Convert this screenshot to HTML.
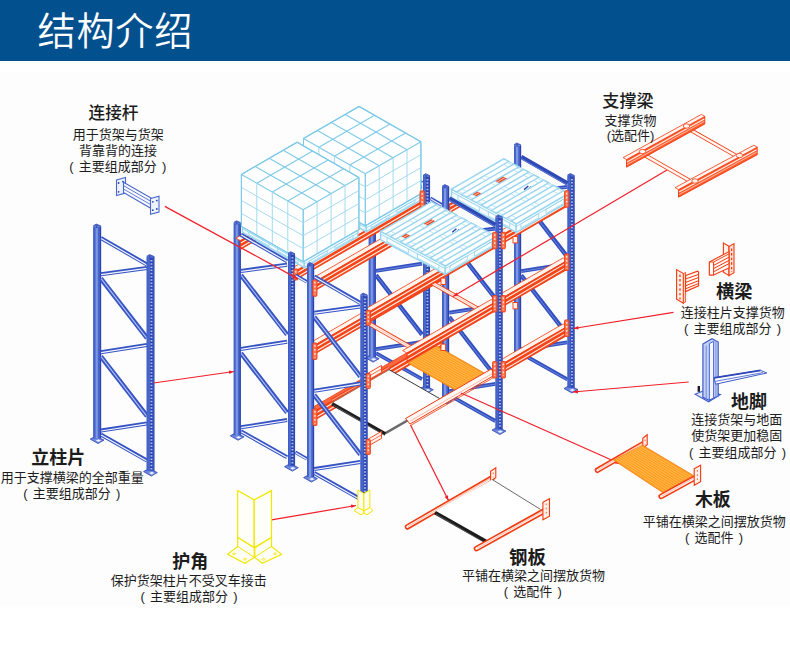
<!DOCTYPE html>
<html lang="zh-CN">
<head>
<meta charset="utf-8">
<title>结构介绍</title>
<style>
html,body{margin:0;padding:0;background:#fff;}
body{width:790px;height:652px;overflow:hidden;position:relative;font-family:"Liberation Sans","Noto Sans CJK SC",sans-serif;}
.hd{position:absolute;left:0;top:0;width:790px;height:61px;background:#03508f;}
.hd h1{position:absolute;left:37.6px;top:5px;margin:0;font-size:38.2px;line-height:54px;font-weight:350;color:#fff;letter-spacing:0.7px;white-space:nowrap;}
.pic{position:absolute;left:0;top:72px;width:790px;height:535px;background:#fdfdfd;}
svg{position:absolute;left:0;top:0;}
svg text{font-family:"Liberation Sans","Noto Sans CJK SC",sans-serif;fill:#1c1c1c;}
</style>
</head>
<body>
<div class="hd"><h1>结构介绍</h1></div>
<div class="pic"></div>
<svg width="790" height="652" viewBox="0 0 790 652">
<g id="frame">
<polygon points="90.2,439.1 95.7,436.1 104,440.1 98,443.5" fill="#6c88e0" stroke="#2c42ac" stroke-width="0.8"/>
<polygon points="95.7,440.5 98.7,439.3 101.2,440.7 98.2,442.1" fill="#e8eeff" stroke="none" stroke-width="1"/>
<rect x="93.3" y="226.5" width="7.8" height="212" fill="#4867cc"/>
<line x1="96.7" y1="227.5" x2="96.7" y2="438.5" stroke="#7d97e2" stroke-width="2.2"/>
<line x1="100.5" y1="226.5" x2="100.5" y2="438.5" stroke="#2c42ac" stroke-width="1.2"/>
<line x1="93.7" y1="226.5" x2="93.7" y2="438.5" stroke="#3f5cc4" stroke-width="0.8"/>
<polygon points="93.3,226.7 93.3,225.7 96.4,224.1 101.1,226.1 101.1,226.7" fill="#4f6ed2" stroke="none" stroke-width="1"/>
<line x1="93.3" y1="225.7" x2="96.4" y2="224.1" stroke="#2c42ac" stroke-width="0.7"/>
<line x1="96.4" y1="224.1" x2="101.1" y2="226.1" stroke="#2c42ac" stroke-width="0.7"/>
<line x1="96.6" y1="225.3" x2="96.6" y2="228.1" stroke="#2c42ac" stroke-width="0.8"/>
<line x1="100.8" y1="238" x2="147" y2="264.5" stroke="#3654c3" stroke-width="4"/>
<line x1="101.1" y1="238.4" x2="146.7" y2="264.9" stroke="#f3f6ff" stroke-width="1.2"/>
<line x1="100.8" y1="274.2" x2="147" y2="268" stroke="#3654c3" stroke-width="4"/>
<line x1="101.1" y1="274.6" x2="146.7" y2="268.4" stroke="#f3f6ff" stroke-width="1.2"/>
<line x1="100.8" y1="278.5" x2="147" y2="338" stroke="#3654c3" stroke-width="4.6"/>
<line x1="101.1" y1="278.7" x2="146.7" y2="338.2" stroke="#b4c2f2" stroke-width="1.1"/>
<line x1="100.8" y1="352.2" x2="147" y2="345" stroke="#3654c3" stroke-width="4"/>
<line x1="101.1" y1="352.6" x2="146.7" y2="345.4" stroke="#f3f6ff" stroke-width="1.2"/>
<line x1="100.8" y1="356.5" x2="147" y2="416" stroke="#3654c3" stroke-width="4.6"/>
<line x1="101.1" y1="356.7" x2="146.7" y2="416.2" stroke="#b4c2f2" stroke-width="1.1"/>
<line x1="100.8" y1="430.6" x2="147" y2="423.4" stroke="#3654c3" stroke-width="4"/>
<line x1="101.1" y1="431" x2="146.7" y2="423.8" stroke="#f3f6ff" stroke-width="1.2"/>
<line x1="100.8" y1="434.6" x2="147" y2="460.5" stroke="#3654c3" stroke-width="4"/>
<line x1="101.1" y1="435" x2="146.7" y2="460.9" stroke="#f3f6ff" stroke-width="1.2"/>
<polygon points="143.5,471.6 149,468.6 157.3,472.6 151.3,476" fill="#6c88e0" stroke="#2c42ac" stroke-width="0.8"/>
<polygon points="149,473 152,471.8 154.5,473.2 151.5,474.6" fill="#e8eeff" stroke="none" stroke-width="1"/>
<rect x="146.7" y="257" width="7.6" height="214" fill="#4867cc"/>
<line x1="151.4" y1="258" x2="151.4" y2="470.5" stroke="#2c42ac" stroke-width="2.8"/>
<line x1="151.4" y1="260" x2="151.4" y2="470" stroke="#a9bff3" stroke-width="1.9" stroke-dasharray="1.5 1.7"/>
<line x1="153.9" y1="257" x2="153.9" y2="471" stroke="#2c42ac" stroke-width="0.9"/>
<line x1="147.2" y1="257" x2="147.2" y2="471" stroke="#3f5cc4" stroke-width="0.9"/>
<polygon points="146.7,257.2 146.7,256.2 149.7,254.6 154.3,256.6 154.3,257.2" fill="#4f6ed2" stroke="none" stroke-width="1"/>
<line x1="146.7" y1="256.2" x2="149.7" y2="254.6" stroke="#2c42ac" stroke-width="0.7"/>
<line x1="149.7" y1="254.6" x2="154.3" y2="256.6" stroke="#2c42ac" stroke-width="0.7"/>
<line x1="149.9" y1="255.8" x2="149.9" y2="258.6" stroke="#2c42ac" stroke-width="0.8"/>
</g>
<g id="rack">
<polygon points="230.3,435.8 235.8,432.8 244.1,436.8 238.1,440.2" fill="#6c88e0" stroke="#2c42ac" stroke-width="0.8"/>
<polygon points="235.8,437.2 238.8,436 241.3,437.4 238.3,438.8" fill="#e8eeff" stroke="none" stroke-width="1"/>
<rect x="233.8" y="223.2" width="7" height="212" fill="#4867cc"/>
<line x1="236.8" y1="224.2" x2="236.8" y2="435.2" stroke="#7d97e2" stroke-width="2.2"/>
<line x1="240.2" y1="223.2" x2="240.2" y2="435.2" stroke="#2c42ac" stroke-width="1.2"/>
<line x1="234.2" y1="223.2" x2="234.2" y2="435.2" stroke="#3f5cc4" stroke-width="0.8"/>
<polygon points="233.8,223.4 233.8,222.4 236.5,220.8 240.8,222.8 240.8,223.4" fill="#4f6ed2" stroke="none" stroke-width="1"/>
<line x1="233.8" y1="222.4" x2="236.5" y2="220.8" stroke="#2c42ac" stroke-width="0.7"/>
<line x1="236.5" y1="220.8" x2="240.8" y2="222.8" stroke="#2c42ac" stroke-width="0.7"/>
<line x1="236.7" y1="222" x2="236.7" y2="224.8" stroke="#2c42ac" stroke-width="0.8"/>
<polygon points="365.3,357.7 370.8,354.7 379.1,358.7 373.1,362.1" fill="#6c88e0" stroke="#2c42ac" stroke-width="0.8"/>
<polygon points="370.8,359.1 373.8,357.9 376.3,359.3 373.3,360.7" fill="#e8eeff" stroke="none" stroke-width="1"/>
<rect x="368.8" y="222" width="7" height="135.1" fill="#4867cc"/>
<line x1="371.8" y1="223" x2="371.8" y2="357.1" stroke="#7d97e2" stroke-width="2.2"/>
<line x1="375.2" y1="222" x2="375.2" y2="357.1" stroke="#2c42ac" stroke-width="1.2"/>
<line x1="369.2" y1="222" x2="369.2" y2="357.1" stroke="#3f5cc4" stroke-width="0.8"/>
<line x1="375.9" y1="156.6" x2="422.1" y2="183.1" stroke="#3654c3" stroke-width="4"/>
<line x1="376.2" y1="157" x2="421.8" y2="183.5" stroke="#f3f6ff" stroke-width="1.2"/>
<line x1="375.9" y1="192.8" x2="422.1" y2="186.6" stroke="#3350c0" stroke-width="3.8"/>
<line x1="376.2" y1="193.1" x2="421.8" y2="186.9" stroke="#6f8ae0" stroke-width="0.9"/>
<line x1="375.9" y1="197.1" x2="422.1" y2="256.6" stroke="#3350c0" stroke-width="4.4"/>
<line x1="376.2" y1="197.4" x2="421.8" y2="256.9" stroke="#6f8ae0" stroke-width="0.9"/>
<line x1="375.9" y1="270.8" x2="422.1" y2="263.6" stroke="#3350c0" stroke-width="3.8"/>
<line x1="376.2" y1="271.1" x2="421.8" y2="263.9" stroke="#6f8ae0" stroke-width="0.9"/>
<line x1="375.9" y1="275.1" x2="422.1" y2="334.6" stroke="#3350c0" stroke-width="4.4"/>
<line x1="376.2" y1="275.4" x2="421.8" y2="334.9" stroke="#6f8ae0" stroke-width="0.9"/>
<line x1="375.9" y1="349.2" x2="422.1" y2="342" stroke="#3350c0" stroke-width="3.8"/>
<line x1="376.2" y1="349.5" x2="421.8" y2="342.3" stroke="#6f8ae0" stroke-width="0.9"/>
<line x1="375.9" y1="353.2" x2="422.1" y2="379.1" stroke="#3350c0" stroke-width="3.8"/>
<line x1="376.2" y1="353.5" x2="421.8" y2="379.4" stroke="#6f8ae0" stroke-width="0.9"/>
<polygon points="240.3,240.7 369.3,166.2 364.9,163.7 235.9,238.2" fill="#fff3ec" stroke="#f23a10" stroke-width="0.8"/>
<polygon points="240.3,240.7 369.3,166.2 369.3,175 240.3,249.5" fill="#f64519" stroke="#f23a10" stroke-width="0.9"/>
<line x1="240.9" y1="242.9" x2="368.7" y2="168.4" stroke="#fff3ec" stroke-width="1.1"/>
<line x1="240.9" y1="247.2" x2="368.7" y2="172.7" stroke="#fff3ec" stroke-width="1.1"/>
<polygon points="294.5,271.7 422.5,197.7 418.1,195.2 290.1,269.2" fill="#fff3ec" stroke="#f23a10" stroke-width="0.8"/>
<polygon points="294.5,271.7 422.5,197.7 422.5,206.5 294.5,280.5" fill="#f64519" stroke="#f23a10" stroke-width="0.9"/>
<line x1="295.1" y1="273.9" x2="421.9" y2="199.9" stroke="#fff3ec" stroke-width="1.1"/>
<line x1="295.1" y1="278.2" x2="421.9" y2="204.2" stroke="#fff3ec" stroke-width="1.1"/>
<polygon points="242.5,225.8 304.3,261.1 304.3,267.6 242.5,232.3" fill="#f2fafd" stroke="#98d6f0" stroke-width="1.4"/>
<polygon points="304.3,261.1 357.8,230.1 357.8,236.6 304.3,267.6" fill="#f8fcfe" stroke="#98d6f0" stroke-width="1.4"/>
<polygon points="309.1,261.1 327.3,250.6 327.3,252.9 309.1,263.4" fill="#ffffff" stroke="#98d6f0" stroke-width="0.9"/>
<polygon points="334.8,246.2 353,235.7 353,238 334.8,248.5" fill="#ffffff" stroke="#98d6f0" stroke-width="0.9"/>
<line x1="304.3" y1="263.9" x2="357.8" y2="232.9" stroke="#98d6f0" stroke-width="0.9"/>
<line x1="242.5" y1="228.6" x2="304.3" y2="263.9" stroke="#98d6f0" stroke-width="0.9"/>
<polygon points="248.7,232.1 269.1,243.8 269.1,246.1 248.7,234.4" fill="#ffffff" stroke="#98d6f0" stroke-width="0.9"/>
<polygon points="277.7,248.7 298.1,260.3 298.1,262.6 277.7,251" fill="#ffffff" stroke="#98d6f0" stroke-width="0.9"/>
<polygon points="304.5,189.9 366.3,225.2 366.3,231.7 304.5,196.4" fill="#f2fafd" stroke="#98d6f0" stroke-width="1.4"/>
<polygon points="366.3,225.2 419.8,194.3 419.8,200.8 366.3,231.7" fill="#f8fcfe" stroke="#98d6f0" stroke-width="1.4"/>
<polygon points="371.1,225.3 389.3,214.7 389.3,217 371.1,227.6" fill="#ffffff" stroke="#98d6f0" stroke-width="0.9"/>
<polygon points="396.8,210.4 415,199.9 415,202.2 396.8,212.7" fill="#ffffff" stroke="#98d6f0" stroke-width="0.9"/>
<line x1="366.3" y1="228" x2="419.8" y2="197.1" stroke="#98d6f0" stroke-width="0.9"/>
<line x1="304.5" y1="192.7" x2="366.3" y2="228" stroke="#98d6f0" stroke-width="0.9"/>
<polygon points="310.7,196.3 331.1,207.9 331.1,210.2 310.7,198.6" fill="#ffffff" stroke="#98d6f0" stroke-width="0.9"/>
<polygon points="339.7,212.9 360.1,224.5 360.1,226.8 339.7,215.2" fill="#ffffff" stroke="#98d6f0" stroke-width="0.9"/>
<polygon points="303.5,138.5 359.1,106.4 420.9,141.7 420.9,193.7 365.3,225.8 303.5,190.5" fill="#ffffff" stroke="#7fcae8" stroke-width="1.1"/>
<line x1="303.5" y1="138.5" x2="365.3" y2="173.8" stroke="#7fcae8" stroke-width="1.1"/>
<line x1="303.5" y1="138.5" x2="359.1" y2="106.4" stroke="#7fcae8" stroke-width="1.1"/>
<line x1="317.4" y1="130.5" x2="379.2" y2="165.8" stroke="#7fcae8" stroke-width="1.1"/>
<line x1="318.9" y1="147.3" x2="374.6" y2="115.2" stroke="#7fcae8" stroke-width="1.1"/>
<line x1="331.3" y1="122.5" x2="393.1" y2="157.7" stroke="#7fcae8" stroke-width="1.1"/>
<line x1="334.4" y1="156.2" x2="390" y2="124" stroke="#7fcae8" stroke-width="1.1"/>
<line x1="345.2" y1="114.4" x2="407" y2="149.7" stroke="#7fcae8" stroke-width="1.1"/>
<line x1="349.9" y1="165" x2="405.5" y2="132.9" stroke="#7fcae8" stroke-width="1.1"/>
<line x1="359.1" y1="106.4" x2="420.9" y2="141.7" stroke="#7fcae8" stroke-width="1.1"/>
<line x1="365.3" y1="173.8" x2="420.9" y2="141.7" stroke="#7fcae8" stroke-width="1.1"/>
<line x1="303.5" y1="138.5" x2="303.5" y2="190.5" stroke="#7fcae8" stroke-width="1"/>
<line x1="365.3" y1="173.8" x2="365.3" y2="225.8" stroke="#7fcae8" stroke-width="1"/>
<line x1="318.9" y1="147.3" x2="318.9" y2="199.3" stroke="#a2daf0" stroke-width="1"/>
<line x1="379.2" y1="165.8" x2="379.2" y2="217.8" stroke="#a2daf0" stroke-width="1"/>
<line x1="334.4" y1="156.2" x2="334.4" y2="208.2" stroke="#a2daf0" stroke-width="1"/>
<line x1="393.1" y1="157.7" x2="393.1" y2="209.7" stroke="#a2daf0" stroke-width="1"/>
<line x1="349.9" y1="165" x2="349.9" y2="217" stroke="#a2daf0" stroke-width="1"/>
<line x1="407" y1="149.7" x2="407" y2="201.7" stroke="#a2daf0" stroke-width="1"/>
<line x1="365.3" y1="173.8" x2="365.3" y2="225.8" stroke="#7fcae8" stroke-width="1"/>
<line x1="420.9" y1="141.7" x2="420.9" y2="193.7" stroke="#7fcae8" stroke-width="1"/>
<line x1="303.5" y1="151.5" x2="365.3" y2="186.8" stroke="#a2daf0" stroke-width="1"/>
<line x1="365.3" y1="186.8" x2="420.9" y2="154.7" stroke="#a2daf0" stroke-width="1"/>
<line x1="303.5" y1="164.5" x2="365.3" y2="199.8" stroke="#a2daf0" stroke-width="1"/>
<line x1="365.3" y1="199.8" x2="420.9" y2="167.7" stroke="#a2daf0" stroke-width="1"/>
<line x1="303.5" y1="177.5" x2="365.3" y2="212.8" stroke="#a2daf0" stroke-width="1"/>
<line x1="365.3" y1="212.8" x2="420.9" y2="180.7" stroke="#a2daf0" stroke-width="1"/>
<line x1="303.5" y1="190.5" x2="365.3" y2="225.8" stroke="#7fcae8" stroke-width="1"/>
<line x1="365.3" y1="225.8" x2="420.9" y2="193.7" stroke="#7fcae8" stroke-width="1"/>
<polygon points="241.4,174.4 297.1,142.2 358.9,177.5 358.9,229.5 303.2,261.7 241.4,226.4" fill="#ffffff" stroke="#7fcae8" stroke-width="1.1"/>
<line x1="241.4" y1="174.4" x2="303.2" y2="209.7" stroke="#7fcae8" stroke-width="1.1"/>
<line x1="241.4" y1="174.4" x2="297.1" y2="142.2" stroke="#7fcae8" stroke-width="1.1"/>
<line x1="255.3" y1="166.4" x2="317.1" y2="201.7" stroke="#7fcae8" stroke-width="1.1"/>
<line x1="256.8" y1="183.2" x2="312.6" y2="151" stroke="#7fcae8" stroke-width="1.1"/>
<line x1="269.2" y1="158.3" x2="331.1" y2="193.6" stroke="#7fcae8" stroke-width="1.1"/>
<line x1="272.3" y1="192.1" x2="328" y2="159.9" stroke="#7fcae8" stroke-width="1.1"/>
<line x1="283.2" y1="150.3" x2="345" y2="185.6" stroke="#7fcae8" stroke-width="1.1"/>
<line x1="287.8" y1="200.9" x2="343.5" y2="168.7" stroke="#7fcae8" stroke-width="1.1"/>
<line x1="297.1" y1="142.2" x2="358.9" y2="177.5" stroke="#7fcae8" stroke-width="1.1"/>
<line x1="303.2" y1="209.7" x2="358.9" y2="177.5" stroke="#7fcae8" stroke-width="1.1"/>
<line x1="241.4" y1="174.4" x2="241.4" y2="226.4" stroke="#7fcae8" stroke-width="1"/>
<line x1="303.2" y1="209.7" x2="303.2" y2="261.7" stroke="#7fcae8" stroke-width="1"/>
<line x1="256.8" y1="183.2" x2="256.8" y2="235.2" stroke="#a2daf0" stroke-width="1"/>
<line x1="317.1" y1="201.7" x2="317.1" y2="253.7" stroke="#a2daf0" stroke-width="1"/>
<line x1="272.3" y1="192.1" x2="272.3" y2="244.1" stroke="#a2daf0" stroke-width="1"/>
<line x1="331.1" y1="193.6" x2="331.1" y2="245.6" stroke="#a2daf0" stroke-width="1"/>
<line x1="287.8" y1="200.9" x2="287.8" y2="252.9" stroke="#a2daf0" stroke-width="1"/>
<line x1="345" y1="185.6" x2="345" y2="237.6" stroke="#a2daf0" stroke-width="1"/>
<line x1="303.2" y1="209.7" x2="303.2" y2="261.7" stroke="#7fcae8" stroke-width="1"/>
<line x1="358.9" y1="177.5" x2="358.9" y2="229.5" stroke="#7fcae8" stroke-width="1"/>
<line x1="241.4" y1="187.4" x2="303.2" y2="222.7" stroke="#a2daf0" stroke-width="1"/>
<line x1="303.2" y1="222.7" x2="358.9" y2="190.5" stroke="#a2daf0" stroke-width="1"/>
<line x1="241.4" y1="200.4" x2="303.2" y2="235.7" stroke="#a2daf0" stroke-width="1"/>
<line x1="303.2" y1="235.7" x2="358.9" y2="203.5" stroke="#a2daf0" stroke-width="1"/>
<line x1="241.4" y1="213.4" x2="303.2" y2="248.7" stroke="#a2daf0" stroke-width="1"/>
<line x1="303.2" y1="248.7" x2="358.9" y2="216.5" stroke="#a2daf0" stroke-width="1"/>
<line x1="241.4" y1="226.4" x2="303.2" y2="261.7" stroke="#7fcae8" stroke-width="1"/>
<line x1="303.2" y1="261.7" x2="358.9" y2="229.5" stroke="#7fcae8" stroke-width="1"/>
<line x1="240.9" y1="234.7" x2="287.1" y2="261.2" stroke="#3654c3" stroke-width="4"/>
<line x1="241.2" y1="235.1" x2="286.8" y2="261.6" stroke="#f3f6ff" stroke-width="1.2"/>
<line x1="240.9" y1="270.9" x2="287.1" y2="264.7" stroke="#3654c3" stroke-width="4"/>
<line x1="241.2" y1="271.3" x2="286.8" y2="265.1" stroke="#f3f6ff" stroke-width="1.2"/>
<line x1="240.9" y1="275.2" x2="287.1" y2="334.7" stroke="#3654c3" stroke-width="4.6"/>
<line x1="241.2" y1="275.4" x2="286.8" y2="334.9" stroke="#b4c2f2" stroke-width="1.1"/>
<line x1="240.9" y1="348.9" x2="287.1" y2="341.7" stroke="#3654c3" stroke-width="4"/>
<line x1="241.2" y1="349.3" x2="286.8" y2="342.1" stroke="#f3f6ff" stroke-width="1.2"/>
<line x1="240.9" y1="353.2" x2="287.1" y2="412.7" stroke="#3654c3" stroke-width="4.6"/>
<line x1="241.2" y1="353.4" x2="286.8" y2="412.9" stroke="#b4c2f2" stroke-width="1.1"/>
<line x1="240.9" y1="427.3" x2="287.1" y2="420.1" stroke="#3654c3" stroke-width="4"/>
<line x1="241.2" y1="427.7" x2="286.8" y2="420.5" stroke="#f3f6ff" stroke-width="1.2"/>
<line x1="240.9" y1="431.3" x2="287.1" y2="457.2" stroke="#3654c3" stroke-width="4"/>
<line x1="241.2" y1="431.7" x2="286.8" y2="457.6" stroke="#f3f6ff" stroke-width="1.2"/>
<polygon points="284.5,466.7 290,463.7 298.3,467.7 292.3,471.1" fill="#6c88e0" stroke="#2c42ac" stroke-width="0.8"/>
<polygon points="290,468.1 293,466.9 295.5,468.3 292.5,469.7" fill="#e8eeff" stroke="none" stroke-width="1"/>
<rect x="288" y="254.1" width="7" height="212" fill="#4867cc"/>
<line x1="292.4" y1="255.1" x2="292.4" y2="465.6" stroke="#2c42ac" stroke-width="2.8"/>
<line x1="292.4" y1="257.1" x2="292.4" y2="465.1" stroke="#a9bff3" stroke-width="1.9" stroke-dasharray="1.5 1.7"/>
<line x1="294.6" y1="254.1" x2="294.6" y2="466.1" stroke="#2c42ac" stroke-width="0.9"/>
<line x1="288.5" y1="254.1" x2="288.5" y2="466.1" stroke="#3f5cc4" stroke-width="0.9"/>
<polygon points="288,254.3 288,253.3 290.7,251.7 295,253.7 295,254.3" fill="#4f6ed2" stroke="none" stroke-width="1"/>
<line x1="288" y1="253.3" x2="290.7" y2="251.7" stroke="#2c42ac" stroke-width="0.7"/>
<line x1="290.7" y1="251.7" x2="295" y2="253.7" stroke="#2c42ac" stroke-width="0.7"/>
<line x1="290.9" y1="252.9" x2="290.9" y2="255.7" stroke="#2c42ac" stroke-width="0.8"/>
<rect x="293.7" y="268.9" width="4.2" height="11" rx="1" fill="#fb7450" stroke="#f23a10" stroke-width="0.9"/>
<line x1="295.8" y1="270.9" x2="295.8" y2="277.9" stroke="#fff1ea" stroke-width="1.2" stroke-dasharray="1.8 2.2"/>
<polygon points="419.5,388.7 425,385.7 433.3,389.7 427.3,393.1" fill="#6c88e0" stroke="#2c42ac" stroke-width="0.8"/>
<polygon points="425,390.1 428,388.9 430.5,390.3 427.5,391.7" fill="#e8eeff" stroke="none" stroke-width="1"/>
<rect x="423" y="176.1" width="7" height="212" fill="#4867cc"/>
<line x1="427.4" y1="177.1" x2="427.4" y2="387.6" stroke="#2c42ac" stroke-width="2.8"/>
<line x1="427.4" y1="179.1" x2="427.4" y2="387.1" stroke="#a9bff3" stroke-width="1.9" stroke-dasharray="1.5 1.7"/>
<line x1="429.6" y1="176.1" x2="429.6" y2="388.1" stroke="#2c42ac" stroke-width="0.9"/>
<line x1="423.5" y1="176.1" x2="423.5" y2="388.1" stroke="#3f5cc4" stroke-width="0.9"/>
<polygon points="423,176.3 423,175.3 425.7,173.7 430,175.7 430,176.3" fill="#4f6ed2" stroke="none" stroke-width="1"/>
<line x1="423" y1="175.3" x2="425.7" y2="173.7" stroke="#2c42ac" stroke-width="0.7"/>
<line x1="425.7" y1="173.7" x2="430" y2="175.7" stroke="#2c42ac" stroke-width="0.7"/>
<line x1="425.9" y1="174.9" x2="425.9" y2="177.7" stroke="#2c42ac" stroke-width="0.8"/>
<rect x="420.1" y="190.9" width="4.2" height="16.5" rx="1" fill="#fb7450" stroke="#f23a10" stroke-width="0.9"/>
<line x1="422.2" y1="192.9" x2="422.2" y2="205.4" stroke="#fff1ea" stroke-width="1.2" stroke-dasharray="1.8 2.2"/>
<polygon points="510.6,358 516.1,355 524.4,359 518.4,362.4" fill="#6c88e0" stroke="#2c42ac" stroke-width="0.8"/>
<polygon points="516.1,359.4 519.1,358.2 521.6,359.6 518.6,361" fill="#e8eeff" stroke="none" stroke-width="1"/>
<rect x="514.1" y="145.4" width="7" height="212" fill="#4867cc"/>
<line x1="517.1" y1="146.4" x2="517.1" y2="357.4" stroke="#7d97e2" stroke-width="2.2"/>
<line x1="520.5" y1="145.4" x2="520.5" y2="357.4" stroke="#2c42ac" stroke-width="1.2"/>
<line x1="514.5" y1="145.4" x2="514.5" y2="357.4" stroke="#3f5cc4" stroke-width="0.8"/>
<polygon points="514.1,145.6 514.1,144.6 516.8,143 521.1,145 521.1,145.6" fill="#4f6ed2" stroke="none" stroke-width="1"/>
<line x1="514.1" y1="144.6" x2="516.8" y2="143" stroke="#2c42ac" stroke-width="0.7"/>
<line x1="516.8" y1="143" x2="521.1" y2="145" stroke="#2c42ac" stroke-width="0.7"/>
<line x1="517" y1="144.2" x2="517" y2="147" stroke="#2c42ac" stroke-width="0.8"/>
<line x1="521.2" y1="193.1" x2="567.4" y2="186.9" stroke="#3350c0" stroke-width="3.8"/>
<line x1="521.5" y1="193.4" x2="567.1" y2="187.2" stroke="#6f8ae0" stroke-width="0.9"/>
<line x1="521.2" y1="197.4" x2="567.4" y2="256.9" stroke="#3350c0" stroke-width="4.4"/>
<line x1="521.5" y1="197.7" x2="567.1" y2="257.2" stroke="#6f8ae0" stroke-width="0.9"/>
<line x1="521.2" y1="271.1" x2="567.4" y2="263.9" stroke="#3350c0" stroke-width="3.8"/>
<line x1="521.5" y1="271.4" x2="567.1" y2="264.2" stroke="#6f8ae0" stroke-width="0.9"/>
<line x1="521.2" y1="275.4" x2="567.4" y2="334.9" stroke="#3350c0" stroke-width="4.4"/>
<line x1="521.5" y1="275.7" x2="567.1" y2="335.2" stroke="#6f8ae0" stroke-width="0.9"/>
<line x1="521.2" y1="349.5" x2="567.4" y2="342.3" stroke="#3350c0" stroke-width="3.8"/>
<line x1="521.5" y1="349.8" x2="567.1" y2="342.6" stroke="#6f8ae0" stroke-width="0.9"/>
<line x1="521.2" y1="353.5" x2="567.4" y2="379.4" stroke="#3350c0" stroke-width="3.8"/>
<line x1="521.5" y1="353.8" x2="567.1" y2="379.7" stroke="#6f8ae0" stroke-width="0.9"/>
<polygon points="449.6,204 514.6,166.4 510.2,163.9 445.2,201.5" fill="#fff3ec" stroke="#f23a10" stroke-width="0.8"/>
<polygon points="449.6,204 514.6,166.4 514.6,175.2 449.6,212.8" fill="#f64519" stroke="#f23a10" stroke-width="0.9"/>
<line x1="450.2" y1="206.2" x2="514" y2="168.6" stroke="#fff3ec" stroke-width="1.1"/>
<line x1="450.2" y1="210.5" x2="514" y2="172.9" stroke="#fff3ec" stroke-width="1.1"/>
<polygon points="438.6,399.6 444.1,396.6 452.4,400.6 446.4,404" fill="#6c88e0" stroke="#2c42ac" stroke-width="0.8"/>
<polygon points="444.1,401 447.1,399.8 449.6,401.2 446.6,402.6" fill="#e8eeff" stroke="none" stroke-width="1"/>
<rect x="442.1" y="187" width="7" height="212" fill="#4867cc"/>
<line x1="445.1" y1="188" x2="445.1" y2="399" stroke="#7d97e2" stroke-width="2.2"/>
<line x1="448.5" y1="187" x2="448.5" y2="399" stroke="#2c42ac" stroke-width="1.2"/>
<line x1="442.5" y1="187" x2="442.5" y2="399" stroke="#3f5cc4" stroke-width="0.8"/>
<polygon points="442.1,187.2 442.1,186.2 444.8,184.6 449.1,186.6 449.1,187.2" fill="#4f6ed2" stroke="none" stroke-width="1"/>
<line x1="442.1" y1="186.2" x2="444.8" y2="184.6" stroke="#2c42ac" stroke-width="0.7"/>
<line x1="444.8" y1="184.6" x2="449.1" y2="186.6" stroke="#2c42ac" stroke-width="0.7"/>
<line x1="445" y1="185.8" x2="445" y2="188.6" stroke="#2c42ac" stroke-width="0.8"/>
<line x1="449.2" y1="234.7" x2="495.4" y2="228.5" stroke="#3350c0" stroke-width="3.8"/>
<line x1="449.5" y1="235" x2="495.1" y2="228.8" stroke="#6f8ae0" stroke-width="0.9"/>
<line x1="449.2" y1="239" x2="495.4" y2="298.5" stroke="#3350c0" stroke-width="4.4"/>
<line x1="449.5" y1="239.3" x2="495.1" y2="298.8" stroke="#6f8ae0" stroke-width="0.9"/>
<line x1="449.2" y1="312.7" x2="495.4" y2="305.5" stroke="#3350c0" stroke-width="3.8"/>
<line x1="449.5" y1="313" x2="495.1" y2="305.8" stroke="#6f8ae0" stroke-width="0.9"/>
<line x1="449.2" y1="317" x2="495.4" y2="376.5" stroke="#3350c0" stroke-width="4.4"/>
<line x1="449.5" y1="317.3" x2="495.1" y2="376.8" stroke="#6f8ae0" stroke-width="0.9"/>
<line x1="449.2" y1="391.1" x2="495.4" y2="383.9" stroke="#3350c0" stroke-width="3.8"/>
<line x1="449.5" y1="391.4" x2="495.1" y2="384.2" stroke="#6f8ae0" stroke-width="0.9"/>
<line x1="449.2" y1="395.1" x2="495.4" y2="421" stroke="#3350c0" stroke-width="3.8"/>
<line x1="449.5" y1="395.4" x2="495.1" y2="421.3" stroke="#6f8ae0" stroke-width="0.9"/>
<polygon points="314.1,411.5 442.1,337.5 437.7,335 309.7,409" fill="#f9683f" stroke="#f23a10" stroke-width="0.8"/>
<polygon points="314.1,411.5 442.1,337.5 442.1,346.3 314.1,420.3" fill="#f64519" stroke="#f23a10" stroke-width="0.9"/>
<line x1="314.7" y1="413.7" x2="441.5" y2="339.7" stroke="#fff3ec" stroke-width="1.1"/>
<line x1="314.7" y1="418" x2="441.5" y2="344" stroke="#fff3ec" stroke-width="1.1"/>
<polygon points="314.1,345.5 442.1,271.5 437.7,269 309.7,343" fill="#fff3ec" stroke="#f23a10" stroke-width="0.8"/>
<polygon points="314.1,345.5 442.1,271.5 442.1,280.3 314.1,354.3" fill="#f64519" stroke="#f23a10" stroke-width="0.9"/>
<line x1="314.7" y1="347.7" x2="441.5" y2="273.7" stroke="#fff3ec" stroke-width="1.1"/>
<line x1="314.7" y1="352" x2="441.5" y2="278" stroke="#fff3ec" stroke-width="1.1"/>
<polygon points="314.1,282.3 442.1,208.3 437.7,205.8 309.7,279.8" fill="#fff3ec" stroke="#f23a10" stroke-width="0.8"/>
<polygon points="314.1,282.3 442.1,208.3 442.1,217.1 314.1,291.1" fill="#f64519" stroke="#f23a10" stroke-width="0.9"/>
<line x1="314.7" y1="284.5" x2="441.5" y2="210.5" stroke="#fff3ec" stroke-width="1.1"/>
<line x1="314.7" y1="288.8" x2="441.5" y2="214.8" stroke="#fff3ec" stroke-width="1.1"/>
<polygon points="502.5,363.9 567.5,326.4 563.1,323.9 498.1,361.4" fill="#fff3ec" stroke="#f23a10" stroke-width="0.8"/>
<polygon points="502.5,363.9 567.5,326.4 567.5,335.2 502.5,372.7" fill="#f64519" stroke="#f23a10" stroke-width="0.9"/>
<line x1="503.1" y1="366.1" x2="566.9" y2="328.6" stroke="#fff3ec" stroke-width="1.1"/>
<line x1="503.1" y1="370.4" x2="566.9" y2="332.9" stroke="#fff3ec" stroke-width="1.1"/>
<polygon points="502.5,297.9 567.5,260.4 563.1,257.9 498.1,295.4" fill="#fff3ec" stroke="#f23a10" stroke-width="0.8"/>
<polygon points="502.5,297.9 567.5,260.4 567.5,269.2 502.5,306.7" fill="#f64519" stroke="#f23a10" stroke-width="0.9"/>
<line x1="503.1" y1="300.1" x2="566.9" y2="262.6" stroke="#fff3ec" stroke-width="1.1"/>
<line x1="503.1" y1="304.4" x2="566.9" y2="266.9" stroke="#fff3ec" stroke-width="1.1"/>
<polygon points="502.5,234.7 567.5,197.2 563.1,194.7 498.1,232.2" fill="#fff3ec" stroke="#f23a10" stroke-width="0.8"/>
<polygon points="502.5,234.7 567.5,197.2 567.5,206 502.5,243.5" fill="#f64519" stroke="#f23a10" stroke-width="0.9"/>
<line x1="503.1" y1="236.9" x2="566.9" y2="199.4" stroke="#fff3ec" stroke-width="1.1"/>
<line x1="503.1" y1="241.2" x2="566.9" y2="203.7" stroke="#fff3ec" stroke-width="1.1"/>
<polygon points="451.5,189.2 516.2,223.8 516.2,232.3 451.5,197.7" fill="#f2fafd" stroke="#98d6f0" stroke-width="1.4"/>
<polygon points="516.2,223.8 568.5,193.4 568.5,201.9 516.2,232.3" fill="#f8fcfe" stroke="#98d6f0" stroke-width="1.4"/>
<polygon points="520.9,223.9 538.7,213.5 538.7,217.8 520.9,228.2" fill="#ffffff" stroke="#98d6f0" stroke-width="0.9"/>
<polygon points="546,209.3 563.8,198.9 563.8,203.2 546,213.6" fill="#ffffff" stroke="#98d6f0" stroke-width="0.9"/>
<line x1="516.2" y1="226.6" x2="568.5" y2="196.2" stroke="#98d6f0" stroke-width="0.9"/>
<line x1="451.5" y1="192" x2="516.2" y2="226.6" stroke="#98d6f0" stroke-width="0.9"/>
<polygon points="458,195.5 479.3,206.9 479.3,211.2 458,199.8" fill="#ffffff" stroke="#98d6f0" stroke-width="0.9"/>
<polygon points="488.4,211.7 509.7,223.1 509.7,227.4 488.4,216" fill="#ffffff" stroke="#98d6f0" stroke-width="0.9"/>
<polygon points="451.5,189.2 503.8,158.8 568.5,193.4 516.2,223.8" fill="#ffffff" stroke="#98d6f0" stroke-width="0.8"/>
<polygon points="467.5,196 476.4,190.9 482.4,194 473.5,199.2" fill="#f5431a" stroke="none" stroke-width="1"/>
<line x1="470.5" y1="197.6" x2="479.4" y2="192.4" stroke="#ffe9e0" stroke-width="0.8"/>
<polygon points="493.2,181.1 502.1,176 508,179.1 499.1,184.3" fill="#f5431a" stroke="none" stroke-width="1"/>
<line x1="496.1" y1="182.7" x2="505" y2="177.5" stroke="#ffe9e0" stroke-width="0.8"/>
<polygon points="453.1,188.3 456.7,186.2 521.4,220.8 517.8,222.9" fill="#ffffff" stroke="#b5e1f4" stroke-width="0.9"/>
<polygon points="475.8,175.1 479.5,172.9 544.2,207.5 540.5,209.7" fill="#ffffff" stroke="#b5e1f4" stroke-width="0.9"/>
<polygon points="498.6,161.8 502.2,159.7 566.9,194.3 563.3,196.4" fill="#ffffff" stroke="#b5e1f4" stroke-width="0.9"/>
<line x1="524.1" y1="189.6" x2="528.3" y2="186" stroke="#2a41ae" stroke-width="1.4"/>
<line x1="527.1" y1="190.4" x2="531.3" y2="186.8" stroke="#2a41ae" stroke-width="1.4"/>
<polygon points="451.5,189.2 503.8,158.8 508.8,161.5 456.5,191.9" fill="#ffffff" stroke="#98d6f0" stroke-width="1.4"/>
<polygon points="461.4,194.5 513.7,164.1 518.8,166.8 466.5,197.2" fill="#ffffff" stroke="#98d6f0" stroke-width="1.4"/>
<polygon points="471.4,199.8 523.7,169.4 528.7,172.1 476.4,202.5" fill="#ffffff" stroke="#98d6f0" stroke-width="1.4"/>
<polygon points="481.3,205.2 533.6,174.8 538.7,177.4 486.4,207.8" fill="#ffffff" stroke="#98d6f0" stroke-width="1.4"/>
<polygon points="491.3,210.5 543.6,180.1 548.6,182.8 496.3,213.2" fill="#ffffff" stroke="#98d6f0" stroke-width="1.4"/>
<polygon points="501.2,215.8 553.5,185.4 558.6,188.1 506.3,218.5" fill="#ffffff" stroke="#98d6f0" stroke-width="1.4"/>
<polygon points="511.2,221.1 563.5,190.7 568.5,193.4 516.2,223.8" fill="#ffffff" stroke="#98d6f0" stroke-width="1.4"/>
<polygon points="564,388.5 569.5,385.5 577.8,389.5 571.8,392.9" fill="#6c88e0" stroke="#2c42ac" stroke-width="0.8"/>
<polygon points="569.5,389.9 572.5,388.7 575,390.1 572,391.5" fill="#e8eeff" stroke="none" stroke-width="1"/>
<rect x="567.5" y="175.9" width="7" height="212" fill="#4867cc"/>
<line x1="571.9" y1="176.9" x2="571.9" y2="387.4" stroke="#2c42ac" stroke-width="2.8"/>
<line x1="571.9" y1="178.9" x2="571.9" y2="386.9" stroke="#a9bff3" stroke-width="1.9" stroke-dasharray="1.5 1.7"/>
<line x1="574.1" y1="175.9" x2="574.1" y2="387.9" stroke="#2c42ac" stroke-width="0.9"/>
<line x1="568" y1="175.9" x2="568" y2="387.9" stroke="#3f5cc4" stroke-width="0.9"/>
<polygon points="567.5,176.1 567.5,175.1 570.2,173.5 574.5,175.5 574.5,176.1" fill="#4f6ed2" stroke="none" stroke-width="1"/>
<line x1="567.5" y1="175.1" x2="570.2" y2="173.5" stroke="#2c42ac" stroke-width="0.7"/>
<line x1="570.2" y1="173.5" x2="574.5" y2="175.5" stroke="#2c42ac" stroke-width="0.7"/>
<line x1="570.4" y1="174.7" x2="570.4" y2="177.5" stroke="#2c42ac" stroke-width="0.8"/>
<rect x="564.6" y="319.9" width="4.2" height="16.5" rx="1" fill="#fb7450" stroke="#f23a10" stroke-width="0.9"/>
<line x1="566.7" y1="321.9" x2="566.7" y2="334.4" stroke="#fff1ea" stroke-width="1.2" stroke-dasharray="1.8 2.2"/>
<rect x="564.6" y="253.9" width="4.2" height="16.5" rx="1" fill="#fb7450" stroke="#f23a10" stroke-width="0.9"/>
<line x1="566.7" y1="255.9" x2="566.7" y2="268.4" stroke="#fff1ea" stroke-width="1.2" stroke-dasharray="1.8 2.2"/>
<rect x="564.6" y="190.7" width="4.2" height="16.5" rx="1" fill="#fb7450" stroke="#f23a10" stroke-width="0.9"/>
<line x1="566.7" y1="192.7" x2="566.7" y2="205.2" stroke="#fff1ea" stroke-width="1.2" stroke-dasharray="1.8 2.2"/>
<line x1="521.2" y1="156.9" x2="567.4" y2="183.4" stroke="#2f49b6" stroke-width="4.4"/>
<line x1="521.2" y1="158.5" x2="567.4" y2="185" stroke="#5f7cd8" stroke-width="1"/>
<line x1="428.4" y1="280.7" x2="478.8" y2="309.5" stroke="#f23a10" stroke-width="4.6"/>
<line x1="429.2" y1="281.2" x2="478" y2="309" stroke="#fff5f0" stroke-width="2.8"/>
<line x1="428.4" y1="280.7" x2="478.8" y2="309.5" stroke="#ff9d80" stroke-width="0.5"/>
<line x1="361.6" y1="319.3" x2="412" y2="348.1" stroke="#f23a10" stroke-width="4.6"/>
<line x1="362.4" y1="319.8" x2="411.2" y2="347.7" stroke="#fff5f0" stroke-width="2.8"/>
<line x1="361.6" y1="319.3" x2="412" y2="348.1" stroke="#ff9d80" stroke-width="0.5"/>
<polygon points="332.1,402.7 389.1,369.7 442.5,400.2 385.5,433.1" fill="#ffffff" stroke="none" stroke-width="1"/>
<line x1="332.1" y1="400.7" x2="389.1" y2="367.7" stroke="#f4431a" stroke-width="4"/>
<line x1="332.1" y1="400.3" x2="389.1" y2="367.3" stroke="#ffd9cb" stroke-width="0.7"/>
<line x1="332.1" y1="402.7" x2="389.1" y2="369.7" stroke="#8a8a8a" stroke-width="0.7"/>
<line x1="389.1" y1="369.7" x2="442.5" y2="400.2" stroke="#3a3a3a" stroke-width="1"/>
<line x1="385.5" y1="433.1" x2="442.5" y2="400.2" stroke="#6b6b6b" stroke-width="2.4"/>
<line x1="332.1" y1="403.7" x2="385.5" y2="434.1" stroke="#1e1e1e" stroke-width="3.4"/>
<line x1="333.1" y1="404.9" x2="384.5" y2="435.3" stroke="#6e6e6e" stroke-width="0.6"/>
<polygon points="408,363.1 437.2,346.2 485.5,373.8 456.3,390.7" fill="#ff9e1e" stroke="#f57a10" stroke-width="0.8"/>
<line x1="410.1" y1="361.9" x2="458.4" y2="389.4" stroke="#ffc46a" stroke-width="0.7"/>
<line x1="412.2" y1="360.7" x2="460.5" y2="388.2" stroke="#ffc46a" stroke-width="0.7"/>
<line x1="414.3" y1="359.5" x2="462.6" y2="387" stroke="#ffc46a" stroke-width="0.7"/>
<line x1="416.3" y1="358.2" x2="464.6" y2="385.8" stroke="#ffc46a" stroke-width="0.7"/>
<line x1="418.4" y1="357" x2="466.7" y2="384.6" stroke="#ffc46a" stroke-width="0.7"/>
<line x1="420.5" y1="355.8" x2="468.8" y2="383.4" stroke="#ffc46a" stroke-width="0.7"/>
<line x1="422.6" y1="354.6" x2="470.9" y2="382.2" stroke="#ffc46a" stroke-width="0.7"/>
<line x1="424.7" y1="353.4" x2="473" y2="381" stroke="#ffc46a" stroke-width="0.7"/>
<line x1="426.8" y1="352.2" x2="475.1" y2="379.8" stroke="#ffc46a" stroke-width="0.7"/>
<line x1="428.9" y1="351" x2="477.2" y2="378.6" stroke="#ffc46a" stroke-width="0.7"/>
<line x1="430.9" y1="349.8" x2="479.2" y2="377.4" stroke="#ffc46a" stroke-width="0.7"/>
<line x1="433" y1="348.6" x2="481.3" y2="376.2" stroke="#ffc46a" stroke-width="0.7"/>
<line x1="435.1" y1="347.4" x2="483.4" y2="375" stroke="#ffc46a" stroke-width="0.7"/>
<polygon points="405.6,418.5 491.1,369.1 495.5,374.6 410,424" fill="#fffaf7" stroke="#f23a10" stroke-width="1"/>
<line x1="410" y1="421.2" x2="495.5" y2="371.8" stroke="#ff9a7a" stroke-width="0.7"/>
<line x1="410" y1="425.8" x2="495.5" y2="376.4" stroke="#f23a10" stroke-width="0.8"/>
<polygon points="407,353.1 495.5,302 491.1,299.5 402.6,350.6" fill="#fff3ec" stroke="#f23a10" stroke-width="0.8"/>
<polygon points="407,353.1 495.5,302 495.5,310.8 407,361.9" fill="#f64519" stroke="#f23a10" stroke-width="0.9"/>
<line x1="407.6" y1="355.3" x2="494.9" y2="304.2" stroke="#fff3ec" stroke-width="1.1"/>
<line x1="407.6" y1="359.6" x2="494.9" y2="308.5" stroke="#fff3ec" stroke-width="1.1"/>
<polygon points="367.5,312.8 495.5,238.8 491.1,236.3 363.1,310.3" fill="#fff3ec" stroke="#f23a10" stroke-width="0.8"/>
<polygon points="367.5,312.8 495.5,238.8 495.5,247.6 367.5,321.6" fill="#f64519" stroke="#f23a10" stroke-width="0.9"/>
<line x1="368.1" y1="315" x2="494.9" y2="241" stroke="#fff3ec" stroke-width="1.1"/>
<line x1="368.1" y1="319.3" x2="494.9" y2="245.3" stroke="#fff3ec" stroke-width="1.1"/>
<polygon points="380.6,231.3 445.3,265.9 445.3,274.4 380.6,239.8" fill="#f2fafd" stroke="#98d6f0" stroke-width="1.4"/>
<polygon points="445.3,265.9 496.3,236.3 496.3,244.8 445.3,274.4" fill="#f8fcfe" stroke="#98d6f0" stroke-width="1.4"/>
<polygon points="449.9,266 467.2,256 467.2,260.3 449.9,270.3" fill="#ffffff" stroke="#98d6f0" stroke-width="0.9"/>
<polygon points="474.4,251.8 491.7,241.8 491.7,246.1 474.4,256.1" fill="#ffffff" stroke="#98d6f0" stroke-width="0.9"/>
<line x1="445.3" y1="268.7" x2="496.3" y2="239.1" stroke="#98d6f0" stroke-width="0.9"/>
<line x1="380.6" y1="234.1" x2="445.3" y2="268.7" stroke="#98d6f0" stroke-width="0.9"/>
<polygon points="387.1,237.6 408.4,249 408.4,253.3 387.1,241.9" fill="#ffffff" stroke="#98d6f0" stroke-width="0.9"/>
<polygon points="417.5,253.8 438.8,265.2 438.8,269.5 417.5,258.1" fill="#ffffff" stroke="#98d6f0" stroke-width="0.9"/>
<polygon points="380.6,231.3 431.6,201.7 496.3,236.3 445.3,265.9" fill="#ffffff" stroke="#98d6f0" stroke-width="0.8"/>
<polygon points="396.6,238.1 405.3,233.1 411.2,236.3 402.5,241.3" fill="#f5431a" stroke="none" stroke-width="1"/>
<line x1="399.6" y1="239.7" x2="408.2" y2="234.7" stroke="#ffe9e0" stroke-width="0.8"/>
<polygon points="421.6,223.6 430.3,218.6 436.2,221.8 427.5,226.8" fill="#f5431a" stroke="none" stroke-width="1"/>
<line x1="424.5" y1="225.2" x2="433.2" y2="220.2" stroke="#ffe9e0" stroke-width="0.8"/>
<polygon points="382.1,230.4 385.7,228.3 450.4,262.9 446.8,265" fill="#ffffff" stroke="#b5e1f4" stroke-width="0.9"/>
<polygon points="404.3,217.5 407.9,215.5 472.6,250.1 469,252.1" fill="#ffffff" stroke="#b5e1f4" stroke-width="0.9"/>
<polygon points="426.5,204.7 430.1,202.6 494.8,237.2 491.2,239.3" fill="#ffffff" stroke="#b5e1f4" stroke-width="0.9"/>
<line x1="452.2" y1="232.3" x2="456.4" y2="228.7" stroke="#2a41ae" stroke-width="1.4"/>
<line x1="455.2" y1="233.1" x2="459.4" y2="229.5" stroke="#2a41ae" stroke-width="1.4"/>
<polygon points="380.6,231.3 431.6,201.7 436.6,204.4 385.6,234" fill="#ffffff" stroke="#98d6f0" stroke-width="1.4"/>
<polygon points="390.5,236.6 441.5,207 446.6,209.7 395.6,239.3" fill="#ffffff" stroke="#98d6f0" stroke-width="1.4"/>
<polygon points="400.5,241.9 451.5,212.3 456.5,215 405.5,244.6" fill="#ffffff" stroke="#98d6f0" stroke-width="1.4"/>
<polygon points="410.4,247.3 461.4,217.7 466.5,220.3 415.5,249.9" fill="#ffffff" stroke="#98d6f0" stroke-width="1.4"/>
<polygon points="420.4,252.6 471.4,223 476.4,225.7 425.4,255.3" fill="#ffffff" stroke="#98d6f0" stroke-width="1.4"/>
<polygon points="430.3,257.9 481.3,228.3 486.4,231 435.4,260.6" fill="#ffffff" stroke="#98d6f0" stroke-width="1.4"/>
<polygon points="440.3,263.2 491.3,233.6 496.3,236.3 445.3,265.9" fill="#ffffff" stroke="#98d6f0" stroke-width="1.4"/>
<polygon points="492,430.1 497.5,427.1 505.8,431.1 499.8,434.5" fill="#6c88e0" stroke="#2c42ac" stroke-width="0.8"/>
<polygon points="497.5,431.5 500.5,430.3 503,431.7 500,433.1" fill="#e8eeff" stroke="none" stroke-width="1"/>
<rect x="495.5" y="217.5" width="7" height="212" fill="#4867cc"/>
<line x1="499.9" y1="218.5" x2="499.9" y2="429" stroke="#2c42ac" stroke-width="2.8"/>
<line x1="499.9" y1="220.5" x2="499.9" y2="428.5" stroke="#a9bff3" stroke-width="1.9" stroke-dasharray="1.5 1.7"/>
<line x1="502.1" y1="217.5" x2="502.1" y2="429.5" stroke="#2c42ac" stroke-width="0.9"/>
<line x1="496" y1="217.5" x2="496" y2="429.5" stroke="#3f5cc4" stroke-width="0.9"/>
<polygon points="495.5,217.7 495.5,216.7 498.2,215.1 502.5,217.1 502.5,217.7" fill="#4f6ed2" stroke="none" stroke-width="1"/>
<line x1="495.5" y1="216.7" x2="498.2" y2="215.1" stroke="#2c42ac" stroke-width="0.7"/>
<line x1="498.2" y1="215.1" x2="502.5" y2="217.1" stroke="#2c42ac" stroke-width="0.7"/>
<line x1="498.4" y1="216.3" x2="498.4" y2="219.1" stroke="#2c42ac" stroke-width="0.8"/>
<rect x="492.6" y="361.5" width="4.2" height="16.5" rx="1" fill="#fb7450" stroke="#f23a10" stroke-width="0.9"/>
<line x1="494.7" y1="363.5" x2="494.7" y2="376" stroke="#fff1ea" stroke-width="1.2" stroke-dasharray="1.8 2.2"/>
<rect x="501.2" y="361.5" width="4.2" height="16.5" rx="1" fill="#fb7450" stroke="#f23a10" stroke-width="0.9"/>
<line x1="503.3" y1="363.5" x2="503.3" y2="376" stroke="#fff1ea" stroke-width="1.2" stroke-dasharray="1.8 2.2"/>
<rect x="492.6" y="295.5" width="4.2" height="16.5" rx="1" fill="#fb7450" stroke="#f23a10" stroke-width="0.9"/>
<line x1="494.7" y1="297.5" x2="494.7" y2="310" stroke="#fff1ea" stroke-width="1.2" stroke-dasharray="1.8 2.2"/>
<rect x="501.2" y="295.5" width="4.2" height="16.5" rx="1" fill="#fb7450" stroke="#f23a10" stroke-width="0.9"/>
<line x1="503.3" y1="297.5" x2="503.3" y2="310" stroke="#fff1ea" stroke-width="1.2" stroke-dasharray="1.8 2.2"/>
<rect x="492.6" y="232.3" width="4.2" height="16.5" rx="1" fill="#fb7450" stroke="#f23a10" stroke-width="0.9"/>
<line x1="494.7" y1="234.3" x2="494.7" y2="246.8" stroke="#fff1ea" stroke-width="1.2" stroke-dasharray="1.8 2.2"/>
<rect x="501.2" y="232.3" width="4.2" height="16.5" rx="1" fill="#fb7450" stroke="#f23a10" stroke-width="0.9"/>
<line x1="503.3" y1="234.3" x2="503.3" y2="246.8" stroke="#fff1ea" stroke-width="1.2" stroke-dasharray="1.8 2.2"/>
<line x1="449.2" y1="198.5" x2="495.4" y2="225" stroke="#2f49b6" stroke-width="4.4"/>
<line x1="449.2" y1="200.1" x2="495.4" y2="226.6" stroke="#5f7cd8" stroke-width="1"/>
<rect x="441" y="278.1" width="4.6" height="6.4" fill="#fff6f1" stroke="#f23a10" stroke-width="0.9"/>
<rect x="441" y="344.1" width="4.6" height="6.4" fill="#fff6f1" stroke="#f23a10" stroke-width="0.9"/>
<rect x="513" y="236.5" width="4.6" height="6.4" fill="#fff6f1" stroke="#f23a10" stroke-width="0.9"/>
<rect x="513" y="302.5" width="4.6" height="6.4" fill="#fff6f1" stroke="#f23a10" stroke-width="0.9"/>
<polygon points="303.6,477.6 309.1,474.6 317.4,478.6 311.4,482" fill="#6c88e0" stroke="#2c42ac" stroke-width="0.8"/>
<polygon points="309.1,479 312.1,477.8 314.6,479.2 311.6,480.6" fill="#e8eeff" stroke="none" stroke-width="1"/>
<rect x="307.1" y="265" width="7" height="212" fill="#4867cc"/>
<line x1="310.1" y1="266" x2="310.1" y2="477" stroke="#7d97e2" stroke-width="2.2"/>
<line x1="313.5" y1="265" x2="313.5" y2="477" stroke="#2c42ac" stroke-width="1.2"/>
<line x1="307.5" y1="265" x2="307.5" y2="477" stroke="#3f5cc4" stroke-width="0.8"/>
<polygon points="307.1,265.2 307.1,264.2 309.8,262.6 314.1,264.6 314.1,265.2" fill="#4f6ed2" stroke="none" stroke-width="1"/>
<line x1="307.1" y1="264.2" x2="309.8" y2="262.6" stroke="#2c42ac" stroke-width="0.7"/>
<line x1="309.8" y1="262.6" x2="314.1" y2="264.6" stroke="#2c42ac" stroke-width="0.7"/>
<line x1="310" y1="263.8" x2="310" y2="266.6" stroke="#2c42ac" stroke-width="0.8"/>
<rect x="312.8" y="409" width="4.2" height="16.5" rx="1" fill="#fb7450" stroke="#f23a10" stroke-width="0.9"/>
<line x1="314.9" y1="411" x2="314.9" y2="423.5" stroke="#fff1ea" stroke-width="1.2" stroke-dasharray="1.8 2.2"/>
<rect x="312.8" y="343" width="4.2" height="16.5" rx="1" fill="#fb7450" stroke="#f23a10" stroke-width="0.9"/>
<line x1="314.9" y1="345" x2="314.9" y2="357.5" stroke="#fff1ea" stroke-width="1.2" stroke-dasharray="1.8 2.2"/>
<rect x="312.8" y="279.8" width="4.2" height="16.5" rx="1" fill="#fb7450" stroke="#f23a10" stroke-width="0.9"/>
<line x1="314.9" y1="281.8" x2="314.9" y2="294.3" stroke="#fff1ea" stroke-width="1.2" stroke-dasharray="1.8 2.2"/>
<line x1="314.2" y1="276.5" x2="360.4" y2="303" stroke="#3654c3" stroke-width="4"/>
<line x1="314.5" y1="276.9" x2="360.1" y2="303.4" stroke="#f3f6ff" stroke-width="1.2"/>
<line x1="314.2" y1="312.7" x2="360.4" y2="306.5" stroke="#3654c3" stroke-width="4"/>
<line x1="314.5" y1="313.1" x2="360.1" y2="306.9" stroke="#f3f6ff" stroke-width="1.2"/>
<line x1="314.2" y1="317" x2="360.4" y2="376.5" stroke="#3654c3" stroke-width="4.6"/>
<line x1="314.5" y1="317.2" x2="360.1" y2="376.7" stroke="#b4c2f2" stroke-width="1.1"/>
<line x1="314.2" y1="390.7" x2="360.4" y2="383.5" stroke="#3654c3" stroke-width="4"/>
<line x1="314.5" y1="391.1" x2="360.1" y2="383.9" stroke="#f3f6ff" stroke-width="1.2"/>
<line x1="314.2" y1="395" x2="360.4" y2="454.5" stroke="#3654c3" stroke-width="4.6"/>
<line x1="314.5" y1="395.2" x2="360.1" y2="454.7" stroke="#b4c2f2" stroke-width="1.1"/>
<line x1="314.2" y1="469.1" x2="360.4" y2="461.9" stroke="#3654c3" stroke-width="4"/>
<line x1="314.5" y1="469.5" x2="360.1" y2="462.3" stroke="#f3f6ff" stroke-width="1.2"/>
<line x1="314.2" y1="473.1" x2="360.4" y2="499" stroke="#3654c3" stroke-width="4"/>
<line x1="314.5" y1="473.5" x2="360.1" y2="499.4" stroke="#f3f6ff" stroke-width="1.2"/>
<line x1="295.3" y1="275.3" x2="306.8" y2="281.8" stroke="#3654c3" stroke-width="3.4"/>
<line x1="295.6" y1="275.7" x2="306.5" y2="282.2" stroke="#f3f6ff" stroke-width="1.2"/>
<line x1="295.3" y1="452.3" x2="306.8" y2="458.8" stroke="#3654c3" stroke-width="3.4"/>
<line x1="295.6" y1="452.7" x2="306.5" y2="459.2" stroke="#f3f6ff" stroke-width="1.2"/>
<line x1="430.3" y1="198.3" x2="441.8" y2="204.8" stroke="#3654c3" stroke-width="3.4"/>
<line x1="430.6" y1="198.7" x2="441.5" y2="205.2" stroke="#f3f6ff" stroke-width="1.2"/>
<path d="M367.5 373.5 L381.5 365.4 L381.5 372.4 L367.5 380.5 Z" fill="#fff3ee" stroke="#f23a10" stroke-width="0.9"/>
<line x1="367.5" y1="377" x2="381.5" y2="368.9" stroke="#f23a10" stroke-width="0.7"/>
<path d="M367.5 439.5 L381.5 431.4 L381.5 438.4 L367.5 446.5 Z" fill="#fff3ee" stroke="#f23a10" stroke-width="0.9"/>
<line x1="367.5" y1="443" x2="381.5" y2="434.9" stroke="#f23a10" stroke-width="0.7"/>
<rect x="360.5" y="295.5" width="7" height="212" fill="#4867cc"/>
<line x1="364.9" y1="296.5" x2="364.9" y2="507" stroke="#2c42ac" stroke-width="2.8"/>
<line x1="364.9" y1="298.5" x2="364.9" y2="506.5" stroke="#a9bff3" stroke-width="1.9" stroke-dasharray="1.5 1.7"/>
<line x1="367.1" y1="295.5" x2="367.1" y2="507.5" stroke="#2c42ac" stroke-width="0.9"/>
<line x1="361" y1="295.5" x2="361" y2="507.5" stroke="#3f5cc4" stroke-width="0.9"/>
<polygon points="360.5,295.7 360.5,294.7 363.2,293.1 367.5,295.1 367.5,295.7" fill="#4f6ed2" stroke="none" stroke-width="1"/>
<line x1="360.5" y1="294.7" x2="363.2" y2="293.1" stroke="#2c42ac" stroke-width="0.7"/>
<line x1="363.2" y1="293.1" x2="367.5" y2="295.1" stroke="#2c42ac" stroke-width="0.7"/>
<line x1="363.4" y1="294.3" x2="363.4" y2="297.1" stroke="#2c42ac" stroke-width="0.8"/>
<rect x="366.2" y="310.3" width="4.2" height="15" rx="1" fill="#fb7450" stroke="#f23a10" stroke-width="0.9"/>
<line x1="368.3" y1="312.3" x2="368.3" y2="323.3" stroke="#fff1ea" stroke-width="1.2" stroke-dasharray="1.8 2.2"/>
<rect x="366.2" y="373.5" width="4.2" height="15" rx="1" fill="#fb7450" stroke="#f23a10" stroke-width="0.9"/>
<line x1="368.3" y1="375.5" x2="368.3" y2="386.5" stroke="#fff1ea" stroke-width="1.2" stroke-dasharray="1.8 2.2"/>
<rect x="366.2" y="439.5" width="4.2" height="15" rx="1" fill="#fb7450" stroke="#f23a10" stroke-width="0.9"/>
<line x1="368.3" y1="441.5" x2="368.3" y2="452.5" stroke="#fff1ea" stroke-width="1.2" stroke-dasharray="1.8 2.2"/>
<polygon points="357.9,490 363.9,493.5 363.9,511 357.9,507.5" fill="#fffef0" stroke="#f2e600" stroke-width="1"/>
<polygon points="363.9,493.5 369.9,490 369.9,507.5 363.9,511" fill="#fffef0" stroke="#f2e600" stroke-width="1"/>
<polygon points="357.9,507.5 354,510.6 360.9,514.8 363.9,513.2 363.9,511" fill="#fffef0" stroke="#f2e600" stroke-width="1"/>
<polygon points="369.9,507.5 373,510.6 366.9,514.8 363.9,513.2 363.9,511" fill="#fffef0" stroke="#f2e600" stroke-width="1"/>
</g>
<g id="leaders">
<line x1="164.8" y1="206.4" x2="297.5" y2="278.6" stroke="#f0202a" stroke-width="1.2"/>
<polygon points="297.5,278.6 292.2,277.8 294,274.6" fill="#f0202a" stroke="none" stroke-width="1"/>
<line x1="153.6" y1="383" x2="234" y2="371.5" stroke="#f0202a" stroke-width="1.2"/>
<polygon points="234,371.5 229.3,374 228.8,370.4" fill="#f0202a" stroke="none" stroke-width="1"/>
<line x1="271.5" y1="519.8" x2="356" y2="505.5" stroke="#f0202a" stroke-width="1.2"/>
<polygon points="356,505.5 351.4,508.1 350.8,504.6" fill="#f0202a" stroke="none" stroke-width="1"/>
<line x1="667" y1="170" x2="453" y2="296.5" stroke="#f0202a" stroke-width="1.2"/>
<polygon points="453,296.5 456.4,292.4 458.2,295.5" fill="#f0202a" stroke="none" stroke-width="1"/>
<line x1="673.5" y1="312.3" x2="573.5" y2="328.5" stroke="#f0202a" stroke-width="1.2"/>
<polygon points="573.5,328.5 578.1,325.9 578.7,329.5" fill="#f0202a" stroke="none" stroke-width="1"/>
<line x1="688.7" y1="382" x2="573" y2="392" stroke="#f0202a" stroke-width="1.2"/>
<polygon points="573,392 577.8,389.8 578.1,393.4" fill="#f0202a" stroke="none" stroke-width="1"/>
<line x1="410.5" y1="425" x2="448.5" y2="500.6" stroke="#f0202a" stroke-width="1.2"/>
<polygon points="448.5,500.6 444.6,496.9 447.9,495.3" fill="#f0202a" stroke="none" stroke-width="1"/>
<line x1="620.5" y1="464" x2="461" y2="393" stroke="#f0202a" stroke-width="1.2"/>
<polygon points="620.5,464 614.8,463.4 616.6,459.8" fill="#f0202a" stroke="none" stroke-width="1"/>
</g>
<g id="details">
<polygon points="116.5,180 125.5,177.5 125.5,193 116.5,195.5" fill="#eef2ff" stroke="#4866cc" stroke-width="1.1"/>
<polygon points="123.5,182.2 152,198.6 152,209 123.5,192.4" fill="#f7f9ff" stroke="#4866cc" stroke-width="1.1"/>
<line x1="123.5" y1="185.6" x2="152" y2="202" stroke="#4866cc" stroke-width="0.9"/>
<line x1="123.5" y1="189" x2="152" y2="205.4" stroke="#4866cc" stroke-width="0.8"/>
<polygon points="150.5,198.5 159,196.3 159,212 150.5,214.3" fill="#eef2ff" stroke="#4866cc" stroke-width="1.1"/>
<circle cx="152.8" cy="201.8" r="0.9" fill="#2c42ac"/>
<circle cx="156.8" cy="200.6" r="0.9" fill="#2c42ac"/>
<circle cx="152.8" cy="210.2" r="0.9" fill="#2c42ac"/>
<circle cx="156.8" cy="209" r="0.9" fill="#2c42ac"/>
<circle cx="118.6" cy="183" r="0.9" fill="#2c42ac"/>
<circle cx="118.6" cy="191.8" r="0.9" fill="#2c42ac"/>
<circle cx="123" cy="181.6" r="0.9" fill="#2c42ac"/>
<line x1="640" y1="152.5" x2="694.5" y2="183.5" stroke="#f23a10" stroke-width="4.2"/>
<line x1="640.8" y1="152.9" x2="693.7" y2="183.1" stroke="#fff6f1" stroke-width="2.4"/>
<line x1="684.5" y1="126.5" x2="739" y2="157.5" stroke="#f23a10" stroke-width="4.2"/>
<line x1="685.3" y1="127" x2="738.2" y2="157.1" stroke="#fff6f1" stroke-width="2.4"/>
<polygon points="626.5,159.6 704.8,116.4 704.8,124 626.5,167.2" fill="#ff5a2c" stroke="#f23a10" stroke-width="0.9"/>
<line x1="627" y1="162.1" x2="704.3" y2="118.9" stroke="#fff1ea" stroke-width="1.1"/>
<line x1="627" y1="164.6" x2="704.3" y2="121.4" stroke="#ffd3c2" stroke-width="0.8"/>
<polygon points="623.1,157.6 701.4,114.4 704.8,116.4 626.5,159.6" fill="#fff4ee" stroke="#f23a10" stroke-width="0.8"/>
<polygon points="678.5,189.6 757.2,147.2 757.2,154.8 678.5,197.2" fill="#ff5a2c" stroke="#f23a10" stroke-width="0.9"/>
<line x1="679" y1="192.1" x2="756.7" y2="149.7" stroke="#fff1ea" stroke-width="1.1"/>
<line x1="679" y1="194.6" x2="756.7" y2="152.2" stroke="#ffd3c2" stroke-width="0.8"/>
<polygon points="675.1,187.6 753.8,145.2 757.2,147.2 678.5,189.6" fill="#fff4ee" stroke="#f23a10" stroke-width="0.8"/>
<ellipse cx="642.5" cy="151.5" rx="3.2" ry="2.2" fill="#fff6f1" stroke="#f23a10" stroke-width="0.8"/>
<ellipse cx="686.5" cy="126" rx="3.2" ry="2.2" fill="#fff6f1" stroke="#f23a10" stroke-width="0.8"/>
<ellipse cx="695" cy="181" rx="3.2" ry="2.2" fill="#fff6f1" stroke="#f23a10" stroke-width="0.8"/>
<ellipse cx="739.5" cy="155.5" rx="3.2" ry="2.2" fill="#fff6f1" stroke="#f23a10" stroke-width="0.8"/>
<polygon points="676.6,269.6 683.4,273.6 683.4,303.2 676.6,299.2" fill="#fff1ea" stroke="#f23a10" stroke-width="1.1"/>
<line x1="680" y1="274.5" x2="680" y2="299.5" stroke="#f23a10" stroke-width="1.3" stroke-dasharray="2.4 2.2"/>
<polygon points="683.4,273.6 685.6,272.4 685.6,302 683.4,303.2" fill="#ffd2c2" stroke="#f23a10" stroke-width="0.8"/>
<polygon points="685.6,275.6 697.6,271.2 698.6,272 698.6,285.8 685.6,291.6" fill="#fff6f1" stroke="#f23a10" stroke-width="1.1"/>
<line x1="685.6" y1="279" x2="698.6" y2="274.4" stroke="#f23a10" stroke-width="1"/>
<line x1="685.6" y1="282.4" x2="698.6" y2="277.5" stroke="#f23a10" stroke-width="1"/>
<line x1="685.6" y1="285.8" x2="698.6" y2="280.7" stroke="#f23a10" stroke-width="1"/>
<line x1="685.6" y1="288.8" x2="698.6" y2="283.5" stroke="#f23a10" stroke-width="1"/>
<polygon points="723.4,243 729,246.4 729,275.6 723.4,272.2" fill="#fff1ea" stroke="#f23a10" stroke-width="1.1"/>
<polygon points="729,246.4 734,243.6 734,272.6 729,275.6" fill="#ffe3d8" stroke="#f23a10" stroke-width="1.1"/>
<line x1="731.6" y1="248.5" x2="731.6" y2="272" stroke="#f23a10" stroke-width="1.3" stroke-dasharray="2.4 2.2"/>
<polygon points="709.4,262 729,251.6 729,268 713.6,275 709.4,275" fill="#fff6f1" stroke="#f23a10" stroke-width="1.1"/>
<polygon points="709.4,262 713.6,262 713.6,275 709.4,275" fill="#ffffff" stroke="#f23a10" stroke-width="1"/>
<line x1="713.6" y1="262" x2="729" y2="253.8" stroke="#f23a10" stroke-width="0.9"/>
<line x1="713.6" y1="265.4" x2="729" y2="257.2" stroke="#f23a10" stroke-width="1"/>
<line x1="713.6" y1="268.6" x2="729" y2="260.4" stroke="#f23a10" stroke-width="1"/>
<line x1="713.6" y1="271.8" x2="729" y2="263.6" stroke="#f23a10" stroke-width="1"/>
<polygon points="695,394.2 703,391 720.4,394.6 708.6,401.8" fill="#dfe6fb" stroke="#3f5bc8" stroke-width="1.1"/>
<polygon points="702.9,344 712,338.8 718.2,342 718.2,396 709.2,400.4 702.9,397.4" fill="#c3d0f5" stroke="#3f5bc8" stroke-width="1.2"/>
<polygon points="709.4,343.6 713.6,341.4 713.6,398 709.4,400" fill="#f4f7ff" stroke="#3f5bc8" stroke-width="0.9"/>
<line x1="706.2" y1="345.6" x2="706.2" y2="398.8" stroke="#6f8ae0" stroke-width="1"/>
<line x1="715.9" y1="341.6" x2="715.9" y2="396.8" stroke="#6f8ae0" stroke-width="0.9"/>
<polygon points="714,377.8 760.5,370.4 766.8,373 715.6,384.2" fill="#f8faff" stroke="#3f5bc8" stroke-width="1"/>
<line x1="714" y1="377.8" x2="760.5" y2="370.4" stroke="#2f48b8" stroke-width="1.8"/>
<line x1="715" y1="381.4" x2="763" y2="372.6" stroke="#3f5bc8" stroke-width="0.8"/>
<rect x="697.6" y="386.0" width="2.4" height="5.8" fill="#1c1c2c"/>
<line x1="597.5" y1="470.2" x2="643.5" y2="443.6" stroke="#f23a10" stroke-width="5.6" stroke-linecap="round"/>
<line x1="597.5" y1="470.2" x2="643.5" y2="443.6" stroke="#fffaf7" stroke-width="2.4" stroke-linecap="round"/>
<line x1="598" y1="470" x2="643" y2="443.4" stroke="#ff8e6c" stroke-width="0.6"/>
<polygon points="642.8,438.3 647.2,434.7 647.2,444.7 642.8,448.3" fill="#fff0ea" stroke="#f23a10" stroke-width="1.1"/>
<line x1="645" y1="439.5" x2="645" y2="444.5" stroke="#f23a10" stroke-width="0.8" stroke-dasharray="1.6 2.6"/>
<polygon points="613.5,460 642.5,445.2 693.3,475.4 662.8,492.6" fill="#ff9e1e" stroke="#f57a10" stroke-width="0.8"/>
<line x1="615.6" y1="458.9" x2="665" y2="491.4" stroke="#ffc46a" stroke-width="0.7"/>
<line x1="617.6" y1="457.9" x2="667.2" y2="490.1" stroke="#ffc46a" stroke-width="0.7"/>
<line x1="619.7" y1="456.8" x2="669.3" y2="488.9" stroke="#ffc46a" stroke-width="0.7"/>
<line x1="621.8" y1="455.8" x2="671.5" y2="487.7" stroke="#ffc46a" stroke-width="0.7"/>
<line x1="623.9" y1="454.7" x2="673.7" y2="486.5" stroke="#ffc46a" stroke-width="0.7"/>
<line x1="625.9" y1="453.7" x2="675.9" y2="485.2" stroke="#ffc46a" stroke-width="0.7"/>
<line x1="628" y1="452.6" x2="678" y2="484" stroke="#ffc46a" stroke-width="0.7"/>
<line x1="630.1" y1="451.5" x2="680.2" y2="482.8" stroke="#ffc46a" stroke-width="0.7"/>
<line x1="632.1" y1="450.5" x2="682.4" y2="481.5" stroke="#ffc46a" stroke-width="0.7"/>
<line x1="634.2" y1="449.4" x2="684.6" y2="480.3" stroke="#ffc46a" stroke-width="0.7"/>
<line x1="636.3" y1="448.4" x2="686.8" y2="479.1" stroke="#ffc46a" stroke-width="0.7"/>
<line x1="638.4" y1="447.3" x2="688.9" y2="477.9" stroke="#ffc46a" stroke-width="0.7"/>
<line x1="640.4" y1="446.3" x2="691.1" y2="476.6" stroke="#ffc46a" stroke-width="0.7"/>
<line x1="661.2" y1="496.4" x2="695.5" y2="477.6" stroke="#f23a10" stroke-width="5.6" stroke-linecap="round"/>
<line x1="661.2" y1="496.4" x2="695.5" y2="477.6" stroke="#fffaf7" stroke-width="2.4" stroke-linecap="round"/>
<line x1="661.7" y1="496.2" x2="695" y2="477.4" stroke="#ff8e6c" stroke-width="0.6"/>
<polygon points="694.2,468.8 700.6,465.2 700.6,481.7 694.2,485.3" fill="#fff0ea" stroke="#f23a10" stroke-width="1.1"/>
<line x1="697.4" y1="470" x2="697.4" y2="481.5" stroke="#f23a10" stroke-width="0.8" stroke-dasharray="1.6 2.6"/>
<line x1="407.5" y1="526.8" x2="492" y2="478" stroke="#f23a10" stroke-width="5.6" stroke-linecap="round"/>
<line x1="407.5" y1="526.8" x2="492" y2="478" stroke="#fffaf7" stroke-width="2.4" stroke-linecap="round"/>
<line x1="408" y1="526.6" x2="491.5" y2="477.8" stroke="#ff8e6c" stroke-width="0.6"/>
<polygon points="490.6,471.3 495.8,467.7 495.8,477.7 490.6,481.3" fill="#fff0ea" stroke="#f23a10" stroke-width="1.1"/>
<line x1="493.2" y1="472.5" x2="493.2" y2="477.5" stroke="#f23a10" stroke-width="0.8" stroke-dasharray="1.6 2.6"/>
<polygon points="435,511.4 492.3,479.6 540.5,509.4 486.8,540.6" fill="#ffffff" stroke="none" stroke-width="1"/>
<line x1="492.3" y1="479.6" x2="540.5" y2="509.4" stroke="#5a5a5a" stroke-width="0.9"/>
<line x1="435" y1="512.6" x2="486.8" y2="541.8" stroke="#1c1c1c" stroke-width="3.8"/>
<line x1="436" y1="514.2" x2="485.8" y2="543.4" stroke="#777" stroke-width="0.6"/>
<line x1="476.5" y1="548.6" x2="544" y2="511" stroke="#f23a10" stroke-width="5.6" stroke-linecap="round"/>
<line x1="476.5" y1="548.6" x2="544" y2="511" stroke="#fffaf7" stroke-width="2.4" stroke-linecap="round"/>
<line x1="477" y1="548.4" x2="543.5" y2="510.8" stroke="#ff8e6c" stroke-width="0.6"/>
<polygon points="542.9,502.3 549.5,498.7 549.5,516.2 542.9,519.8" fill="#fff0ea" stroke="#f23a10" stroke-width="1.1"/>
<line x1="546.2" y1="503.5" x2="546.2" y2="516" stroke="#f23a10" stroke-width="0.8" stroke-dasharray="1.6 2.6"/>
<polygon points="237.7,490.6 254.2,499.9 254.2,547.7 237.7,537.5" fill="#fffffa" stroke="#f2e600" stroke-width="1.2"/>
<polygon points="254.2,499.9 271.5,490.6 271.5,537.5 254.2,547.7" fill="#fffffa" stroke="#f2e600" stroke-width="1.2"/>
<polygon points="237.7,537.5 237.7,546.4 227.6,554.4 244.9,563.2 254.2,557.4 254.2,547.7" fill="#fffffa" stroke="#f2e600" stroke-width="1.2"/>
<polygon points="271.5,537.5 271.5,546.4 281.5,554.4 262.4,563.2 254.8,557.4 254.8,547.7" fill="#fffffa" stroke="#f2e600" stroke-width="1.2"/>
<polyline points="237.7,546.4 254.2,557.4 271.5,546.4" fill="none" stroke="#f2e600" stroke-width="1"/>
<ellipse cx="234" cy="553.8" rx="1.5" ry="0.9" fill="none" stroke="#f2e600" stroke-width="0.8"/>
<ellipse cx="245" cy="559.2" rx="1.5" ry="0.9" fill="none" stroke="#f2e600" stroke-width="0.8"/>
<ellipse cx="263.5" cy="559.2" rx="1.5" ry="0.9" fill="none" stroke="#f2e600" stroke-width="0.8"/>
<ellipse cx="275" cy="553.8" rx="1.5" ry="0.9" fill="none" stroke="#f2e600" stroke-width="0.8"/>
</g>
<g id="labels">
<text x="113.5" y="118.7" font-size="16.6" font-weight="500" text-anchor="middle">连接杆</text>
<text x="118.2" y="138.6" font-size="13" text-anchor="middle">用于货架与货架</text>
<text x="118" y="154.6" font-size="13" text-anchor="middle">背靠背的连接</text>
<text x="117.8" y="170.6" font-size="13" text-anchor="middle" word-spacing="1.6">( 主要组成部分 )</text>
<text x="628" y="106.6" font-size="17.1" font-weight="500" text-anchor="middle">支撑梁</text>
<text x="630.5" y="124.6" font-size="13" text-anchor="middle">支撑货物</text>
<text x="630.5" y="140.4" font-size="13" text-anchor="middle">(选配件)</text>
<text x="734.3" y="298" font-size="18.2" font-weight="700" text-anchor="middle">横梁</text>
<text x="732.7" y="316.6" font-size="13" text-anchor="middle">连接柱片支撑货物</text>
<text x="732.5" y="332.9" font-size="13" text-anchor="middle" word-spacing="1.6">( 主要组成部分 )</text>
<text x="749" y="408.2" font-size="17.9" font-weight="700" text-anchor="middle">地脚</text>
<text x="736.8" y="424.2" font-size="13" text-anchor="middle">连接货架与地面</text>
<text x="736.8" y="440.4" font-size="13" text-anchor="middle">使货架更加稳固</text>
<text x="737.5" y="456.6" font-size="13" text-anchor="middle" word-spacing="1.6">( 主要组成部分 )</text>
<text x="712.8" y="506.2" font-size="17.9" font-weight="700" text-anchor="middle">木板</text>
<text x="714.2" y="525.6" font-size="13" text-anchor="middle">平铺在横梁之间摆放货物</text>
<text x="714" y="542" font-size="13" text-anchor="middle" word-spacing="1.6">( 选配件 )</text>
<text x="527.5" y="563.8" font-size="18.4" font-weight="700" text-anchor="middle">钢板</text>
<text x="533.5" y="579.6" font-size="13" text-anchor="middle">平铺在横梁之间摆放货物</text>
<text x="532.8" y="595.6" font-size="13" text-anchor="middle" word-spacing="1.6">( 选配件 )</text>
<text x="190.3" y="568" font-size="18" font-weight="700" text-anchor="middle">护角</text>
<text x="188.7" y="584.8" font-size="13" text-anchor="middle">保护货架柱片不受叉车接击</text>
<text x="189" y="600.8" font-size="13" text-anchor="middle" word-spacing="1.6">( 主要组成部分 )</text>
<text x="58.2" y="464.2" font-size="18" font-weight="700" text-anchor="middle">立柱片</text>
<text x="72.2" y="482.4" font-size="13" text-anchor="middle">用于支撑横梁的全部重量</text>
<text x="71.8" y="498.4" font-size="13" text-anchor="middle" word-spacing="1.6">( 主要组成部分 )</text>
</g>
</svg>
</body>
</html>
